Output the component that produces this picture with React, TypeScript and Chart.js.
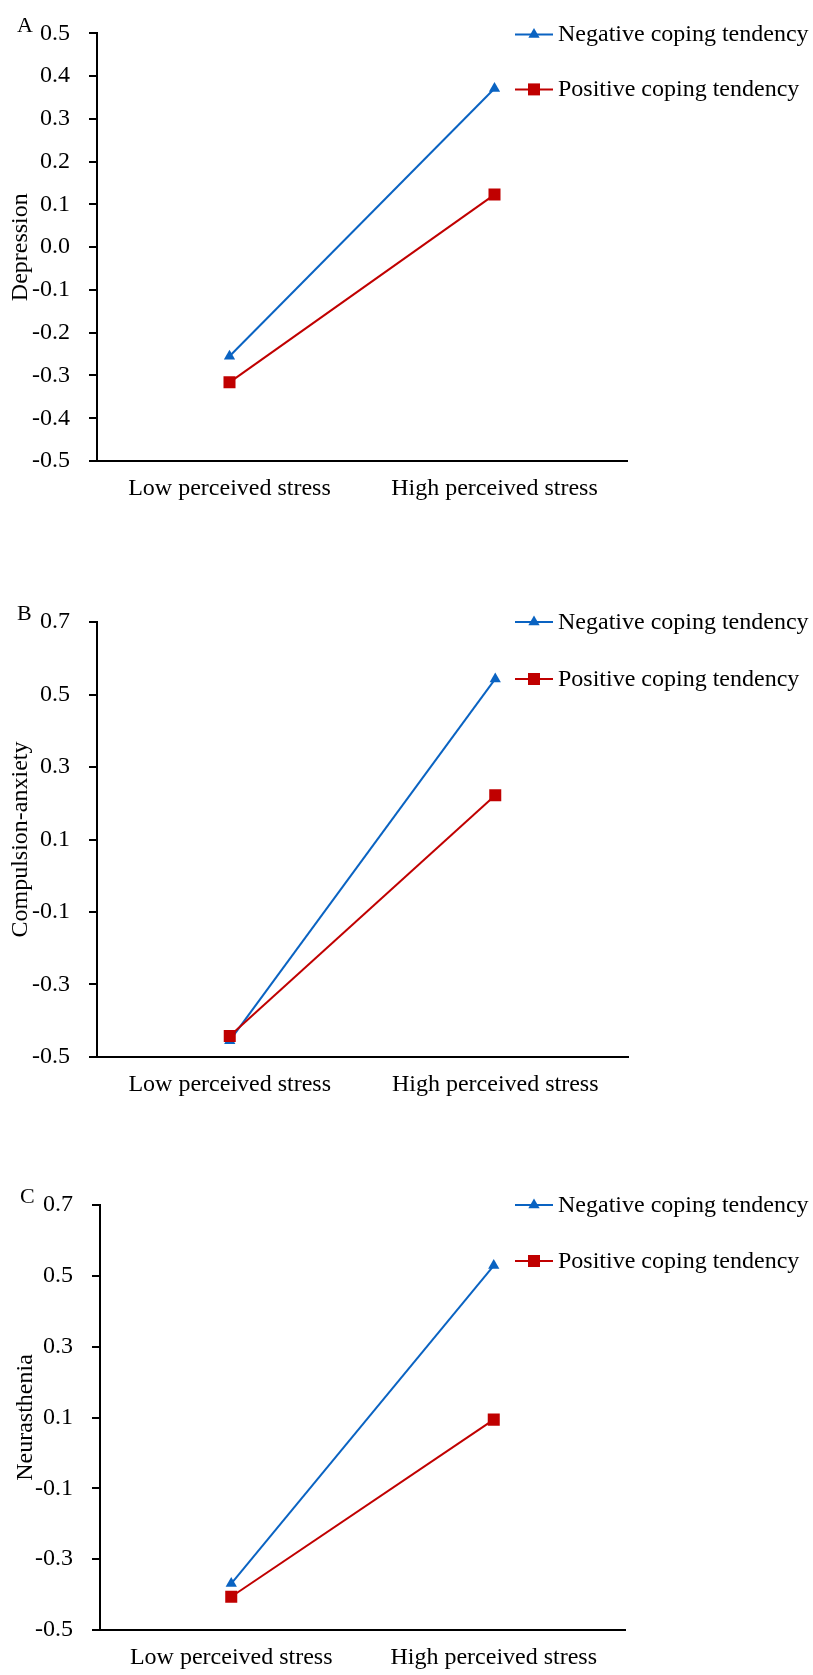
import { useEffect, useRef } from "react";
import { Chart, registerables } from "chart.js";

Chart.register(...registerables);

// ---- Data ----
const categories = ["Low perceived stress", "High perceived stress"];
const seriesNames = ["Negative coping tendency", "Positive coping tendency"];

const depressionNegative = [-0.255, 0.371];
const depressionPositive = [-0.316, 0.123];

const compulsionNegative = [-0.455, 0.543];
const compulsionPositive = [-0.442, 0.222];

const neurastheniaNegative = [-0.369, 0.529];
const neurastheniaPositive = [-0.406, 0.094];

const ticksA = [-0.5, -0.4, -0.3, -0.2, -0.1, 0.0, 0.1, 0.2, 0.3, 0.4, 0.5];
const ticksB = [-0.5, -0.3, -0.1, 0.1, 0.3, 0.5, 0.7];
const ticksC = [-0.5, -0.3, -0.1, 0.1, 0.3, 0.5, 0.7];

// ---- Styles ----
const FONT = "'Liberation Serif', 'Times New Roman', Times, serif";
const BLUE = "#0A63C2";
const RED = "#C00000";

type Spec = {
  letter: string;
  yTitle: string;
  neg: number[];
  pos: number[];
  ticks: number[];
  top: number;
  height: number;
  areaTop: number;
  yWidth: number;
  padRight: number;
  xHeight: number;
  padBottom: number;
  letterX: number;
  letterDy: number;
  titleX: number;
  legendDy: number[];
};

const panels: Spec[] = [
  {
    letter: "A", yTitle: "Depression", neg: depressionNegative, pos: depressionPositive, ticks: ticksA,
    top: 0, height: 560, areaTop: 26, yWidth: 97, padRight: 186, xHeight: 60, padBottom: 39,
    letterX: 17, letterDy: -1, titleX: 27, legendDy: [1, 56],
  },
  {
    letter: "B", yTitle: "Compulsion-anxiety", neg: compulsionNegative, pos: compulsionPositive, ticks: ticksB,
    top: 560, height: 570, areaTop: 62, yWidth: 97, padRight: 185, xHeight: 60, padBottom: 13,
    letterX: 17, letterDy: -2, titleX: 27, legendDy: [0, 57],
  },
  {
    letter: "C", yTitle: "Neurasthenia", neg: neurastheniaNegative, pos: neurastheniaPositive, ticks: ticksC,
    top: 1130, height: 545, areaTop: 75, yWidth: 100, padRight: 188, xHeight: 45, padBottom: 0,
    letterX: 20, letterDy: -2, titleX: 32, legendDy: [0, 56],
  },
];

function drawMarker(c: CanvasRenderingContext2D, style: string, x: number, y: number, color: string) {
  c.fillStyle = color;
  c.beginPath();
  if (style === "triangle") {
    const r = 6.5;
    c.moveTo(x, y - r);
    c.lineTo(x + r * Math.sin(Math.PI * 2 / 3), y - r * Math.cos(Math.PI * 2 / 3));
    c.lineTo(x - r * Math.sin(Math.PI * 2 / 3), y - r * Math.cos(Math.PI * 2 / 3));
    c.closePath();
  } else {
    const s = 6;
    c.rect(x - s, y - s, 2 * s, 2 * s);
  }
  c.fill();
}

function Panel({ spec }: { spec: Spec }) {
  const ref = useRef<HTMLCanvasElement>(null);
  useEffect(() => {
    const canvas = ref.current!;
    const extras = {
      id: "extras" + spec.letter,
      afterDraw(chart: any) {
        const ca = chart.chartArea;
        const c: CanvasRenderingContext2D = chart.ctx;
        c.save();
        // panel letter
        c.fillStyle = "#000";
        c.font = `22px ${FONT}`;
        c.textAlign = "left";
        c.textBaseline = "alphabetic";
        c.fillText(spec.letter, spec.letterX, ca.top + spec.letterDy);
        // y title
        c.save();
        c.translate(spec.titleX, (ca.top + ca.bottom) / 2);
        c.rotate(-Math.PI / 2);
        c.textAlign = "center";
        c.font = `24px ${FONT}`;
        c.fillText(spec.yTitle, 0, 0);
        c.restore();
        // legend
        const entries = [
          { name: seriesNames[0], color: BLUE, style: "triangle" },
          { name: seriesNames[1], color: RED, style: "rect" },
        ];
        entries.forEach((e, i) => {
          const y = ca.top + spec.legendDy[i];
          c.strokeStyle = e.color;
          c.lineWidth = 2;
          c.beginPath();
          c.moveTo(515, y);
          c.lineTo(553, y);
          c.stroke();
          drawMarker(c, e.style, 534, y, e.color);
          c.fillStyle = "#000";
          c.font = `24px ${FONT}`;
          c.textAlign = "left";
          c.textBaseline = "alphabetic";
          c.fillText(e.name, 558, y + 7);
        });
        c.restore();
      },
    };

    const chart = new Chart(canvas, {
      type: "line",
      data: {
        labels: categories,
        datasets: [
          {
            label: seriesNames[1],
            data: spec.pos,
            borderColor: RED,
            backgroundColor: RED,
            pointStyle: "rect",
            pointRadius: 8.5,
            pointBorderWidth: 0,
            borderWidth: 2,
            order: 0,
          },
          {
            label: seriesNames[0],
            data: spec.neg,
            borderColor: BLUE,
            backgroundColor: BLUE,
            pointStyle: "triangle",
            pointRadius: 6.5,
            pointBorderWidth: 0,
            borderWidth: 2,
            order: 1,
          },
        ],
      },
      options: {
        responsive: false,
        maintainAspectRatio: false,
        animation: false,
        devicePixelRatio: 1,
        layout: { padding: { left: 0, top: spec.areaTop, right: spec.padRight, bottom: spec.padBottom } },
        plugins: { legend: { display: false }, tooltip: { enabled: false }, title: { display: false } },
        scales: {
          x: {
            type: "category",
            offset: true,
            grid: { display: false, drawTicks: false },
            border: { display: true, color: "#000", width: 2 },
            ticks: {
              color: "#000",
              font: { family: FONT, size: 24 },
              padding: 13,
              maxRotation: 0,
              autoSkip: false,
            },
            afterFit: (s: any) => {
              s.height = spec.xHeight;
            },
          },
          y: {
            type: "linear",
            min: spec.ticks[0],
            max: spec.ticks[spec.ticks.length - 1],
            grid: { display: true, drawOnChartArea: false, drawTicks: true, tickLength: 8, color: "#000", lineWidth: 2 },
            border: { display: true, color: "#000", width: 2 },
            ticks: {
              color: "#000",
              font: { family: FONT, size: 24 },
              padding: 19,
              callback: (v: any) => Number(v).toFixed(1),
            },
            afterBuildTicks: (s: any) => {
              s.ticks = spec.ticks.map((v) => ({ value: v }));
            },
            afterFit: (s: any) => {
              s.width = spec.yWidth;
            },
          },
        },
      } as any,
      plugins: [extras],
    });
    return () => chart.destroy();
  }, [spec]);
  return (
    <canvas
      ref={ref}
      width={813}
      height={spec.height}
      style={{ position: "absolute", left: 0, top: spec.top, width: 813, height: spec.height }}
    />
  );
}

export default function App() {
  return (
    <div style={{ position: "absolute", left: 0, top: 0, width: 813, height: 1675, background: "#fff" }}>
      {panels.map((p) => (
        <Panel key={p.letter} spec={p} />
      ))}
    </div>
  );
}
